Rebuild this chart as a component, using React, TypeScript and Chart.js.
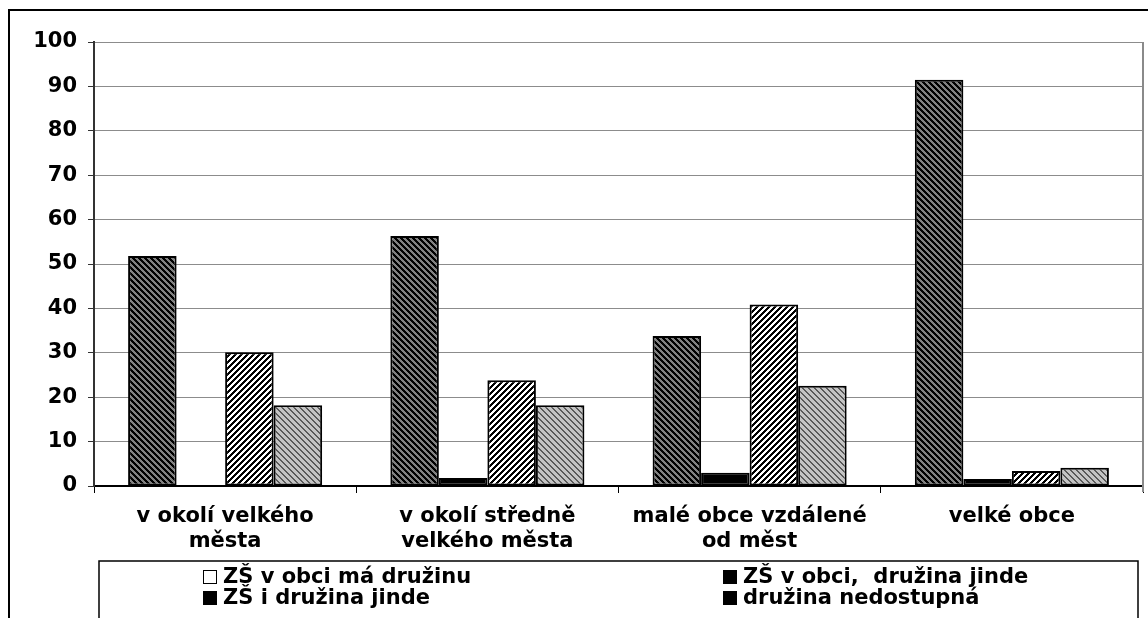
import React, { useEffect, useRef } from "react";
import { Chart, registerables } from "chart.js";

Chart.register(...registerables);

const categories: string[][] = [
  ["v okolí velkého", "města"],
  ["v okolí středně", "velkého města"],
  ["malé obce vzdálené", "od měst"],
  ["velké obce"],
];
const seriesLabels = [
  "ZŠ v obci má družinu",
  "ZŠ v obci,  družina jinde",
  "ZŠ i družina jinde",
  "družina nedostupná",
];
const series1 = [51.8, 56.3, 33.8, 91.5];
const series2 = [0, 1.8, 3.0, 1.6];
const series3 = [30.1, 23.8, 40.9, 3.4];
const series4 = [18.2, 18.2, 22.6, 4.1];
const legendMarkerFill = ["#ffffff", "#000000", "#000000", "#000000"];
const yMin = 0;
const yMax = 100;
const yStep = 10;

const FONT = "'DejaVu Sans', Verdana, sans-serif";

function makePattern(
  dir: "back" | "fwd",
  stripe: string,
  base: string,
  stripeW: number
): CanvasPattern | string {
  const size = 6;
  const c = document.createElement("canvas");
  c.width = size;
  c.height = size;
  const g = c.getContext("2d");
  if (!g) return base;
  for (let y = 0; y < size; y++) {
    for (let x = 0; x < size; x++) {
      const k = dir === "back" ? (((x - y) % size) + size) % size : (x + y) % size;
      g.fillStyle = k < stripeW ? stripe : base;
      g.fillRect(x, y, 1, 1);
    }
  }
  const p = g.createPattern(c, "repeat");
  return p || base;
}

export default function App() {
  const ref = useRef<HTMLCanvasElement | null>(null);

  useEffect(() => {
    if (!ref.current) return;
    const p1 = makePattern("back", "#000000", "#808080", 3);
    const p3 = makePattern("fwd", "#000000", "#ffffff", 3);
    const p4 = makePattern("back", "#5a5a5a", "#c4c4c4", 2);

    const decor = {
      id: "decor",
      afterDraw(chart: any) {
        const ctx = chart.ctx as CanvasRenderingContext2D;
        const a = chart.chartArea;
        ctx.save();
        // outer frame
        ctx.strokeStyle = "#000";
        ctx.lineWidth = 2;
        ctx.beginPath();
        ctx.moveTo(9, 640);
        ctx.lineTo(9, 10);
        ctx.lineTo(1160, 10);
        ctx.stroke();
        // plot right edge
        ctx.strokeStyle = "#8a8a8a";
        ctx.lineWidth = 2;
        ctx.beginPath();
        ctx.moveTo(a.right, a.top);
        ctx.lineTo(a.right, a.bottom + 6);
        ctx.stroke();
        // legend box
        ctx.strokeStyle = "#000";
        ctx.lineWidth = 1.5;
        ctx.beginPath();
        ctx.moveTo(99, 640);
        ctx.lineTo(99, 561);
        ctx.lineTo(1138, 561);
        ctx.lineTo(1138, 640);
        ctx.stroke();
        // legend items
        const colX = [203, 723];
        const rowY = [577, 598];
        ctx.font = `bold 21px ${FONT}`;
        ctx.textBaseline = "middle";
        ctx.textAlign = "left";
        chart.data.datasets.forEach((ds: any, i: number) => {
          const x = colX[i % 2];
          const y = rowY[Math.floor(i / 2)];
          ctx.fillStyle = legendMarkerFill[i];
          ctx.fillRect(x, y - 7, 14, 14);
          ctx.strokeStyle = "#000";
          ctx.lineWidth = 1;
          ctx.strokeRect(x + 0.5, y - 6.5, 13, 13);
          ctx.fillStyle = "#000";
          ctx.fillText(ds.label, x + 20, y + 1);
        });
        ctx.restore();
      },
    };

    const common = {
      borderColor: "#000",
      borderWidth: 2,
      borderSkipped: false,
      categoryPercentage: 0.74,
      barPercentage: 1.0,
    };

    const chart = new Chart(ref.current, {
      type: "bar",
      data: {
        labels: categories,
        datasets: [
          { label: seriesLabels[0], data: series1, backgroundColor: p1, ...common },
          { label: seriesLabels[1], data: series2, backgroundColor: "#000", ...common },
          { label: seriesLabels[2], data: series3, backgroundColor: p3, ...common },
          { label: seriesLabels[3], data: series4, backgroundColor: p4, ...common },
        ] as any,
      },
      options: {
        animation: false,
        responsive: false,
        layout: { padding: { top: 42, right: 5, left: 0, bottom: 0 } },
        plugins: { legend: { display: false }, tooltip: { enabled: false } },
        scales: {
          x: {
            offset: true,
            grid: {
              offset: true,
              drawOnChartArea: false,
              drawTicks: true,
              tickLength: 7,
              tickColor: "#000",
            },
            border: { display: true, color: "#000", width: 2 },
            ticks: {
              color: "#000",
              font: { family: FONT, size: 21, weight: "bold", lineHeight: 1.2 },
              padding: 11,
              maxRotation: 0,
              autoSkip: false,
            },
            afterFit: (scale: any) => {
              scale.height = 132;
            },
          },
          y: {
            min: yMin,
            max: yMax,
            grid: {
              color: "#8c8c8c",
              lineWidth: 1,
              tickLength: 6,
              tickColor: "#333",
            },
            border: { display: true, color: "#333", width: 2 },
            ticks: {
              stepSize: yStep,
              color: "#000",
              font: { family: FONT, size: 21, weight: "bold" },
              padding: 11,
            },
            afterFit: (scale: any) => {
              scale.width = 94;
            },
          },
        },
      } as any,
      plugins: [decor],
    });
    return () => chart.destroy();
  }, []);

  return (
    <div style={{ position: "absolute", left: 0, top: 0, width: 1148, height: 618, background: "#fff" }}>
      <canvas ref={ref} width={1148} height={618} style={{ display: "block" }} />
    </div>
  );
}
